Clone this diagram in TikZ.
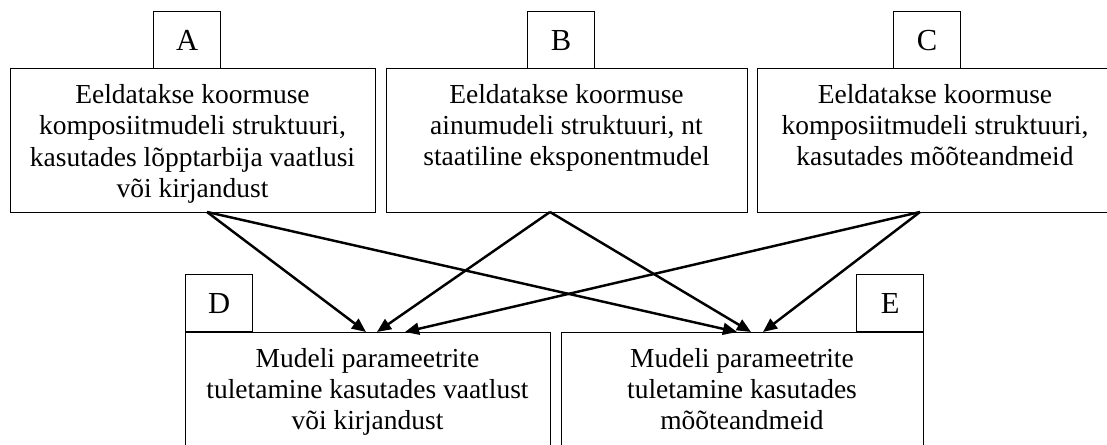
\documentclass[tikz,border=0pt]{standalone}
\usepackage{fontspec}
\setmainfont{Liberation Serif}
\usetikzlibrary{arrows.meta}
\tikzset{
  box/.style={draw, line width=0.35pt, inner sep=0pt, anchor=north west},
  boxtext/.style={align=center, anchor=base, inner sep=0pt, font=\fontsize{7.82}{8.95}\selectfont},
  tag/.style={draw, line width=0.35pt, inner sep=0pt, anchor=north west, minimum width=0.67cm, minimum height=0.57cm, font=\fontsize{8.7}{9.5}\selectfont},
  link/.style={line width=0.7pt, -{Triangle[length=4pt,width=3.4pt]}}
}
\begin{document}
\begin{tikzpicture}
\useasboundingbox (0,0) rectangle (11.07,4.45);
\clip (0,0) rectangle (11.07,4.45);
% upper row
\node[box, minimum width=3.65cm, minimum height=1.44cm] (boxA) at (0.10,3.77) {};
\node[box, minimum width=3.61cm, minimum height=1.44cm] (boxB) at (3.86,3.77) {};
\node[box, minimum width=3.60cm, minimum height=1.44cm] (boxC) at (7.57,3.77) {};
\node[tag] (tagA) at (1.53,4.34) {A};
\node[tag] (tagB) at (5.27,4.34) {B};
\node[tag] (tagC) at (8.93,4.34) {C};
% base = last line
\node[boxtext] (txtA) at (1.925,2.475) {Eeldatakse koormuse\\komposiitmudeli struktuuri,\\kasutades lõpptarbija vaatlusi\\või kirjandust};
\node[boxtext] (txtB) at (5.665,2.79) {Eeldatakse koormuse\\ainumudeli struktuuri, nt\\staatiline eksponentmudel};
\node[boxtext] (txtC) at (9.35,2.79) {Eeldatakse koormuse\\komposiitmudeli struktuuri,\\kasutades mõõteandmeid};
% lower row
\node[box, minimum width=3.65cm, minimum height=1.5cm] (boxD) at (1.85,1.13) {};
\node[box, minimum width=3.62cm, minimum height=1.5cm] (boxE) at (5.61,1.13) {};
\node[tag] (tagD) at (1.85,1.71) {D};
\node[tag] (tagE) at (8.56,1.71) {E};
\node[boxtext] (txtD) at (3.675,0.15) {Mudeli parameetrite\\tuletamine kasutades vaatlust\\või kirjandust};
\node[boxtext] (txtE) at (7.42,0.15) {Mudeli parameetrite\\tuletamine kasutades\\mõõteandmeid};
% arrow ends
\coordinate (A out) at (2.07,2.33);
\coordinate (B out) at (5.50,2.33);
\coordinate (C out) at (9.20,2.33);
\coordinate (D in A) at (3.66,1.13);
\coordinate (D in B) at (3.77,1.13);
\coordinate (D in C) at (4.05,1.13);
\coordinate (E in A) at (7.37,1.13);
\coordinate (E in B) at (7.51,1.13);
\coordinate (E in C) at (7.63,1.13);
\foreach \s in {A,B,C}
  \foreach \t in {D,E}
    \draw[link] (\s\space out) -- (\t\space in \s);
\end{tikzpicture}
\end{document}
